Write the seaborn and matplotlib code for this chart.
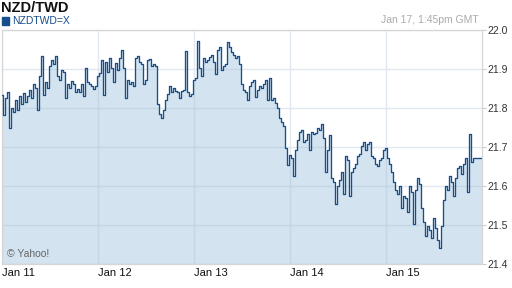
import numpy as np
import pandas as pd
import matplotlib
matplotlib.use("Agg")
import matplotlib.pyplot as plt
from matplotlib.patches import Rectangle
import seaborn as sns

sns.set_theme(style="white")
plt.rcParams['font.family'] = ['Liberation Sans', 'DejaVu Sans']

title = "NZD/TWD"
series_name = "NZDTWD=X"
timestamp = "Jan 17, 1:45pm GMT"
credit = "© Yahoo!"
day_labels = ["Jan 11", "Jan 12", "Jan 13", "Jan 14", "Jan 15"]
y_ticks = [21.4, 21.5, 21.6, 21.7, 21.8, 21.9, 22.0]

jan11 = [21.833, 21.782, 21.826, 21.841, 21.749, 21.800, 21.790, 21.821, 21.795, 21.831,
         21.810, 21.838, 21.815, 21.831, 21.846, 21.826, 21.862, 21.851, 21.795, 21.882,
         21.933, 21.833, 21.867, 21.851, 21.908, 21.923, 21.913, 21.933, 21.882, 21.872,
         21.897, 21.892, 21.826, 21.862, 21.851, 21.869, 21.862, 21.841, 21.849, 21.841,
         21.862, 21.831, 21.903, 21.867, 21.862, 21.856, 21.849, 21.856]
jan12 = [21.882, 21.890, 21.923, 21.833, 21.918, 21.892, 21.928, 21.903, 21.867, 21.915,
         21.897, 21.928, 21.949, 21.903, 21.826, 21.872, 21.862, 21.867, 21.856, 21.928,
         21.933, 21.918, 21.913, 21.862, 21.872, 21.923, 21.926, 21.908, 21.913, 21.908,
         21.810, 21.785, 21.774, 21.795, 21.821, 21.836, 21.856, 21.841, 21.851, 21.844,
         21.841, 21.826, 21.844, 21.846, 21.946, 21.841, 21.831, 21.836]
jan13 = [21.872, 21.877, 21.972, 21.903, 21.882, 21.928, 21.918, 21.923, 21.931, 21.936,
         21.918, 21.887, 21.949, 21.956, 21.897, 21.908, 21.913, 21.969, 21.956, 21.944,
         21.936, 21.928, 21.933, 21.913, 21.862, 21.846, 21.841, 21.821, 21.856, 21.867,
         21.872, 21.828, 21.846, 21.856, 21.851, 21.862, 21.872, 21.821, 21.877, 21.821,
         21.826, 21.813, 21.800, 21.774, 21.764, 21.754, 21.697, 21.654]
jan14 = [21.679, 21.672, 21.626, 21.692, 21.718, 21.738, 21.744, 21.713, 21.718, 21.733,
         21.692, 21.738, 21.733, 21.736, 21.749, 21.744, 21.759, 21.723, 21.636, 21.692,
         21.731, 21.621, 21.610, 21.554, 21.600, 21.615, 21.636, 21.579, 21.677, 21.667,
         21.574, 21.636, 21.646, 21.656, 21.677, 21.682, 21.703, 21.713, 21.692, 21.708,
         21.713, 21.677, 21.672, 21.656, 21.651, 21.667, 21.672, 21.692]
jan15 = [21.697, 21.672, 21.656, 21.636, 21.610, 21.590, 21.579, 21.600, 21.544, 21.574,
         21.569, 21.533, 21.600, 21.585, 21.503, 21.590, 21.621, 21.605, 21.544, 21.508,
         21.472, 21.497, 21.487, 21.467, 21.518, 21.492, 21.462, 21.441, 21.497, 21.564,
         21.600, 21.590, 21.626, 21.610, 21.574, 21.621, 21.646, 21.651, 21.631, 21.656,
         21.672, 21.585, 21.733, 21.662, 21.672, 21.672, 21.672, 21.672, 21.672]

values = jan11 + jan12 + jan13 + jan14 + jan15
points_per_day = 48
df = pd.DataFrame({"day": np.arange(len(values)) / points_per_day, "rate": values})

line_color = "#174e8c"
W, H = 512, 288
fig = plt.figure(figsize=(W / 100, H / 100), dpi=100)
ax = fig.add_axes([2 / W, 24 / H, 480 / W, 234 / H])

ax.fill_between(df["day"], df["rate"], 21.0, step="mid", color="#98bed9",
                alpha=0.42, lw=0, zorder=2)
sns.lineplot(data=df, x="day", y="rate", color=line_color, lw=0.95,
             drawstyle="steps-mid", ax=ax, legend=False, zorder=3)

ax.set_xlim(0, 5)
ax.set_ylim(21.4, 22.0)
ax.set_xticks(range(len(day_labels)))
ax.set_xticklabels(day_labels, ha="left")
ax.set_yticks(y_ticks)
ax.set_yticklabels([f"{t:.1f}" for t in y_ticks])
ax.yaxis.tick_right()
ax.set_xlabel("")
ax.set_ylabel("")
ax.grid(True, color="#e2e8f0", lw=1.0, zorder=1)
ax.set_axisbelow(True)
ax.tick_params(axis="y", direction="out", length=3, width=0.8, color="#cccccc",
               labelsize=7.5, labelcolor="#333333", pad=1, right=True)
ax.tick_params(axis="x", length=0, labelsize=8, labelcolor="#111111", pad=3)
for name, sp in ax.spines.items():
    sp.set_visible(True)
    sp.set_color("#d6d6d6")
    sp.set_linewidth(0.9)

fig.text(1 / W, 1 - 7.5 / H, title, fontsize=10.5, fontweight="bold", color="#111111",
         va="center", ha="left")
fig.patches.append(Rectangle((2 / W, 1 - 25 / H), 7 / W, 8 / H, transform=fig.transFigure,
                             color=line_color, figure=fig))
fig.text(12 / W, 1 - 21 / H, series_name, fontsize=7.5, color=line_color,
         va="center", ha="left")
fig.text(479 / W, 1 - 20 / H, timestamp, fontsize=7.5, color="#aaaaaa",
         va="center", ha="right")
fig.text(7 / W, 1 - 254 / H, credit, fontsize=7.5, color="#666666",
         va="center", ha="left")

fig.savefig("out.png", dpi=100)
